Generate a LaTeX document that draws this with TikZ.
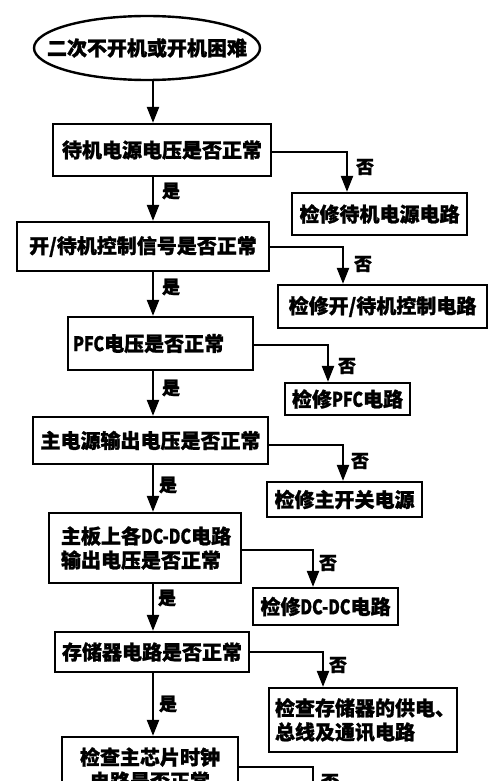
\documentclass[tikz,border=0pt]{standalone}
\usepackage{fontspec}
\usepackage{graphicx}
\newfontfamily\cjk{Noto Sans CJK SC}[BoldFeatures={FakeBold=1.2}]
\usetikzlibrary{shapes.geometric,arrows.meta}
\newcommand{\nar}[1]{\scalebox{0.8}[1]{#1}}
\begin{document}
\begin{tikzpicture}[x=1pt,y=-1pt,
  every node/.style={font=\cjk\bfseries\fontsize{20}{24}\selectfont},
  box/.style={draw,line width=2.2pt,rectangle,inner sep=0pt,align=center},
  ovaltext/.style={rectangle,inner sep=0pt},
  ovalline/.style={line width=2.4pt},
  lbl/.style={font=\cjk\bfseries\fontsize{18}{20}\selectfont,inner sep=0pt},
  arr/.style={line width=2.2pt,-{Triangle[length=16pt,width=12pt]}},
  ln/.style={line width=2.2pt}]
\useasboundingbox (0,0) rectangle (500,781);
\fill[white] (0,0) rectangle (500,781);
\clip (0,0) rectangle (500,781);

% main column nodes
\node[ovaltext,minimum width=226pt,minimum height=64pt] (e) at (147,48) {二次不开机或开机困难};
\draw[ovalline] (e.center) ellipse [x radius=113, y radius=32];
\node[box,minimum width=218pt,minimum height=52pt] (b1) at (162,150) {待机电源电压是否正常};
\node[box,minimum width=252pt,minimum height=49pt] (b2) at (143,246.5) {开/待机控制信号是否正常};
\node[box,minimum width=185pt,minimum height=53pt,text width=175pt,align=left] (b3) at (160.5,343.5) {\nar{PFC}电压是否正常};
\node[box,minimum width=235pt,minimum height=47pt] (b4) at (150.5,440.5) {主电源输出电压是否正常};
\node[box,minimum width=192pt,minimum height=70pt,text width=168pt,align=left] (b5) at (145,548) {主板上各\nar{DC-DC}电路\\输出电压是否正常};
\node[box,minimum width=194pt,minimum height=40pt] (b6) at (152,652) {存储器电路是否正常};
\node[box,minimum width=176pt,minimum height=64pt] (b7) at (150,769) {检查主芯片时钟\\电路是否正常};

% right column nodes
\node[box,minimum width=175pt,minimum height=42pt] (r1) at (379.5,214) {检修待机电源电路};
\node[box,minimum width=209pt,minimum height=43pt] (r2) at (382.5,306.5) {检修开/待机控制电路};
\node[box,minimum width=125pt,minimum height=32pt] (r3) at (347.5,399) {检修\nar{PFC}电路};
\node[box,minimum width=155pt,minimum height=35pt] (r4) at (344.5,499.5) {检修主开关电源};
\node[box,minimum width=145pt,minimum height=37pt] (r5) at (325.5,606.5) {检修\nar{DC-DC}电路};
\node[box,minimum width=188pt,minimum height=64pt,text width=176pt,align=left] (r6) at (363,720) {检查存储器的供电、\\总线及通讯电路};

% helper coordinates
\coordinate (mx) at (153,0);
\coordinate (k1) at (347,152);
\coordinate (k2) at (343,247);
\coordinate (k3) at (328,345);
\coordinate (k4) at (343,445);
\coordinate (k5) at (313,550);
\coordinate (k6) at (323,652);
\coordinate (k7) at (313,767);
\coordinate (k7e) at (313,800);

% main connectors
\draw[arr] (e.south -| mx) -- (b1.north -| mx);
\draw[arr] (b1.south -| mx) -- (b2.north -| mx);
\draw[arr] (b2.south -| mx) -- (b3.north -| mx);
\draw[arr] (b3.south -| mx) -- (b4.north -| mx);
\draw[arr] (b4.south -| mx) -- (b5.north -| mx);
\draw[arr] (b5.south -| mx) -- (b6.north -| mx);
\draw[arr] (b6.south -| mx) -- (b7.north -| mx);

% branch connectors
\draw[arr] (b1.east |- k1) -- (k1) -- (r1.north -| k1);
\draw[arr] (b2.east |- k2) -- (k2) -- (r2.north -| k2);
\draw[arr] (b3.east |- k3) -- (k3) -- (r3.north -| k3);
\draw[arr] (b4.east |- k4) -- (k4) -- (r4.north -| k4);
\draw[arr] (b5.east |- k5) -- (k5) -- (r5.north -| k5);
\draw[arr] (b6.east |- k6) -- (k6) -- (r6.north -| k6);
\draw[ln] (b7.east |- k7) -- (k7) -- (k7e);

% labels
\node[lbl] (y1) at (171,191) {是};
\node[lbl] (y2) at (171,287) {是};
\node[lbl] (y3) at (171,388) {是};
\node[lbl] (y4) at (168,485) {是};
\node[lbl] (y5) at (167,598) {是};
\node[lbl] (y6) at (168,704) {是};
\node[lbl] (n1) at (365,167) {否};
\node[lbl] (n2) at (363,264) {否};
\node[lbl] (n3) at (347,366) {否};
\node[lbl] (n4) at (360,461) {否};
\node[lbl] (n5) at (328,563) {否};
\node[lbl] (n6) at (338,665) {否};
\node[lbl] (n7) at (330,782) {否};
\end{tikzpicture}
\end{document}
